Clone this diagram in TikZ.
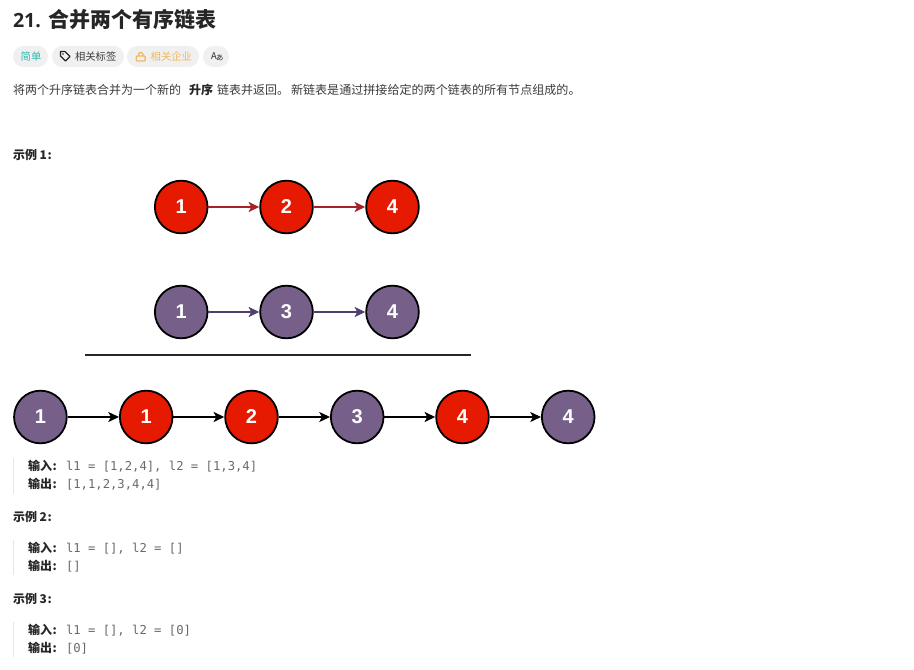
\documentclass[tikz,border=0pt]{standalone}
\usepackage{fontspec}
\setmainfont{Noto Sans CJK SC}
\setmonofont{DejaVu Sans Mono}
\newfontfamily\numfont{Liberation Sans}
\newfontfamily\latinfont{Open Sans}
\usetikzlibrary{arrows.meta}
\definecolor{redn}{HTML}{E61A00}
\definecolor{purn}{HTML}{76608A}
\definecolor{rede}{HTML}{A8202A}
\definecolor{pure}{HTML}{4F3F6B}
\definecolor{ink}{HTML}{262626}
\definecolor{body}{HTML}{3C3C3C}
\definecolor{code}{HTML}{666A70}
\definecolor{pill}{HTML}{F0F0F0}
\definecolor{teal}{HTML}{2DB8B0}
\definecolor{amber}{HTML}{F0B860}
\definecolor{barc}{HTML}{E6E6E6}
\tikzset{
  x=0.75pt,y=-0.75pt,
  lnode/.style={circle,draw=black,line width=1.35pt,minimum size=39.5pt,inner sep=0pt,text=white,font=\numfont\bfseries\fontsize{15}{15}\selectfont},
  rn/.style={lnode,fill=redn},
  pn/.style={lnode,fill=purn},
  larrow/.style={-{Stealth[length=8pt,width=7.5pt,inset=2pt]},line width=1.25pt},
  redarrow/.style={larrow,draw=rede},
  purarrow/.style={larrow,draw=pure},
  blackarrow/.style={larrow,draw=black},
  txt/.style={anchor=base west,inner sep=0pt,outer sep=0pt},
  bodyt/.style={txt,text=body,font=\fontsize{9}{9}\selectfont},
  boldt/.style={txt,text=ink,font=\fontsize{9}{9}\selectfont\bfseries},
  codet/.style={txt,text=code,font=\ttfamily\fontsize{9.16}{10}\selectfont},
  bart/.style={draw=barc,line width=1pt},
  tagbox/.style={rounded corners=7.8pt,fill=pill,draw=none},
  tagt/.style={txt,font=\fontsize{7.75}{9}\selectfont},
}
\begin{document}
\begin{tikzpicture}
\useasboundingbox (0,0) rectangle (914,670);
\fill[white] (0,0) rectangle (914,670);
% header
\node[txt,text=ink,font=\latinfont\fontsize{14.7}{16}\selectfont\bfseries] (title) at (13,28) {21.};
\node[txt,text=ink,font=\fontsize{15.75}{17}\selectfont\bfseries] (title2) at (48,28) {合并两个有序链表};
% tags
\fill[tagbox] (13,46) rectangle (48,67);
\fill[tagbox] (52,46) rectangle (124,67);
\fill[tagbox] (127,46) rectangle (199,67);
\fill[tagbox] (203,46) rectangle (229,67);
\node[tagt,text=teal] (t1) at (20.7,60.5) {简单};
\node[tagt,text=body] (t2) at (75,60.5) {相关标签};
\node[tagt,text=amber] (t3) at (150.7,60.5) {相关企业};
\draw[ink,line width=0.95pt,line join=round] (60.5,51.5) -- (65,51.5) -- (70,56.5) -- (65.5,61) -- (60.5,56) -- cycle;
\fill[ink] (63,54) circle (0.7pt);
\draw[amber,line width=0.95pt,rounded corners=0.8pt] (136.2,56) rectangle (145.2,61);
\draw[amber,line width=0.95pt] (138.4,56) -- (138.4,54.8) arc[start angle=180,end angle=360,radius=2.3] -- (143,56);
\node[txt,text=ink,font=\fontsize{7}{7}\selectfont] (t4a) at (211,60) {A};
\node[txt,text=ink,font=\fontsize{5.5}{6}\selectfont] (t4b) at (216,61) {あ};
% statement
\node[bodyt] (s1) at (13,94.5) {将两个升序链表合并为一个新的};
\node[boldt] (s2) at (189,94.5) {升序};
\node[bodyt] (s3) at (217,94.5) {链表并返回。};
\node[bodyt,font=\fontsize{9.05}{9}\selectfont] (s4) at (291,94.5) {新链表是通过拼接给定的两个链表的所有节点组成的。};
% example 1
\node[boldt] (e1) at (13,159.5) {示例 1\kern0.5pt:};
\node[rn] (a1) at (181.2,207) {1};
\node[rn] (a2) at (286.5,207) {2};
\node[rn] (a3) at (392.5,207) {4};
\draw[redarrow] (a1) -- (a2);
\draw[redarrow] (a2) -- (a3);
\node[pn] (b1) at (181.2,312) {1};
\node[pn] (b2) at (286.5,312) {3};
\node[pn] (b3) at (392.5,312) {4};
\draw[purarrow] (b1) -- (b2);
\draw[purarrow] (b2) -- (b3);
\coordinate (ruleL) at (85,355);
\coordinate (ruleR) at (471,355);
\draw[line width=1.4pt,draw=black!85] (ruleL) -- (ruleR);
\node[pn] (c1) at (40.4,417) {1};
\node[rn] (c2) at (146.2,417) {1};
\node[rn] (c3) at (251.5,417) {2};
\node[pn] (c4) at (357.2,417) {3};
\node[rn] (c5) at (462.5,417) {4};
\node[pn] (c6) at (568.2,417) {4};
\draw[blackarrow] (c1) -- (c2);
\draw[blackarrow] (c2) -- (c3);
\draw[blackarrow] (c3) -- (c4);
\draw[blackarrow] (c4) -- (c5);
\draw[blackarrow] (c5) -- (c6);
\draw[bart] (13.5,458) -- (13.5,494);
\node[boldt] (i1) at (28,470) {输入\kern0.5pt:};
\node[codet] (i1v) at (66,470) {l1 = [1,2,4], l2 = [1,3,4]};
\node[boldt] (o1) at (28,488) {输出\kern0.5pt:};
\node[codet] (o1v) at (66,488) {[1,1,2,3,4,4]};
% example 2
\node[boldt] (e2) at (13,521.5) {示例 2\kern0.5pt:};
\draw[bart] (13.5,540) -- (13.5,575);
\node[boldt] (i2) at (28,552) {输入\kern0.5pt:};
\node[codet] (i2v) at (66,552) {l1 = [], l2 = []};
\node[boldt] (o2) at (28,570) {输出\kern0.5pt:};
\node[codet] (o2v) at (66,570) {[]};
% example 3
\node[boldt] (e3) at (13,603.5) {示例 3\kern0.5pt:};
\draw[bart] (13.5,622) -- (13.5,657);
\node[boldt] (i3) at (28,634) {输入\kern0.5pt:};
\node[codet] (i3v) at (66,634) {l1 = [], l2 = [0]};
\node[boldt] (o3) at (28,652) {输出\kern0.5pt:};
\node[codet] (o3v) at (66,652) {[0]};
\end{tikzpicture}
\end{document}
